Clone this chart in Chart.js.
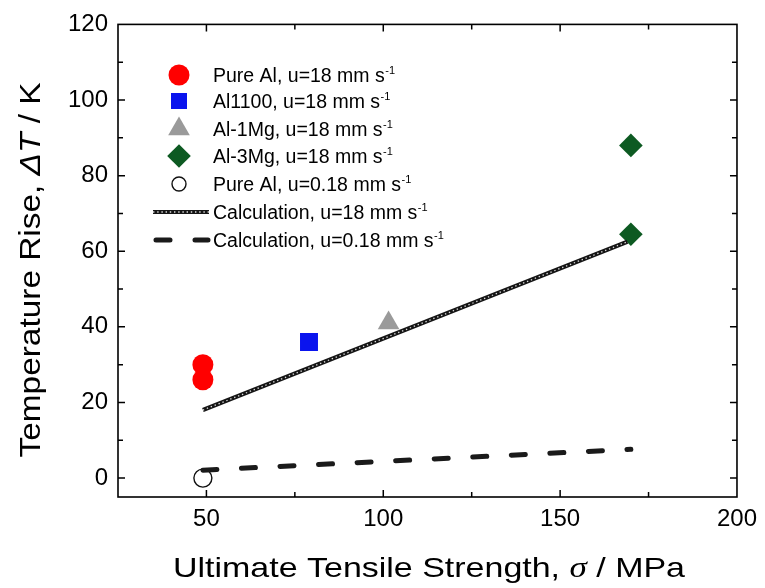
<!DOCTYPE html>
<html>
<head>
<meta charset="utf-8">
<script src="https://cdn.jsdelivr.net/npm/chart.js@4"></script>
<style>
  html, body { margin: 0; padding: 0; background: #ffffff; }
  #c { display: block; }
</style>
</head>
<body>
<canvas id="c" width="765" height="588"></canvas>
<script>
// Measured temperature rise vs. ultimate tensile strength
const pureAlFastX = [49, 49];
const pureAlFastY = [30, 26];
const al1100X = [79];
const al1100Y = [36];
const al1MgX = [101.5];
const al1MgY = [41];
const al3MgX = [170, 170];
const al3MgY = [88, 64.5];
const pureAlSlowX = [49];
const pureAlSlowY = [0];

// Calculated temperature rise
const calcFastX = [49, 169];
const calcFastY = [18, 62.5];
const calcSlowX = [49, 170];
const calcSlowY = [2.1, 7.6];

// Labelled ticks
const xTickLabels = [50, 100, 150, 200];
const yTickLabels = [0, 20, 40, 60, 80, 100, 120];

// Series names shown in the key (each followed by a superscript "-1")
const seriesLabels = [
  'Pure Al, u=18 mm s',
  'Al1100, u=18 mm s',
  'Al-1Mg, u=18 mm s',
  'Al-3Mg, u=18 mm s',
  'Pure Al, u=0.18 mm s',
  'Calculation, u=18 mm s',
  'Calculation, u=0.18 mm s'
];

const SANS = '"Liberation Sans", Arial, Helvetica, sans-serif';

function pts(xs, ys) {
  return xs.map((x, i) => ({ x: x, y: ys[i] }));
}

const datasets = [
  { label: seriesLabels[0], data: pts(pureAlFastX, pureAlFastY), pointStyle: 'circle', pointRadius: 10.5,
    backgroundColor: '#ff0000', borderColor: '#ff0000', borderWidth: 0, order: 10,
    legendRow: 0, legendRadius: 10.5 },
  { label: seriesLabels[1], data: pts(al1100X, al1100Y), pointStyle: 'rect', pointRadius: 12.7,
    backgroundColor: '#0a14ee', borderColor: '#0a14ee', borderWidth: 0, order: 10,
    legendRow: 1, legendRadius: 11.3 },
  { label: seriesLabels[2], data: pts(al1MgX, al1MgY), pointStyle: 'triangle', pointRadius: 12.5,
    backgroundColor: '#9a9a9a', borderColor: '#9a9a9a', borderWidth: 0, order: 10,
    legendRow: 2, legendRadius: 12.5 },
  { label: seriesLabels[3], data: pts(al3MgX, al3MgY), pointStyle: 'rectRot', pointRadius: 11.8,
    backgroundColor: '#0d5a22', borderColor: '#0d5a22', borderWidth: 0, order: 10,
    legendRow: 3, legendRadius: 11.8 },
  { label: seriesLabels[4], data: pts(pureAlSlowX, pureAlSlowY), pointStyle: 'circle', pointRadius: 9,
    backgroundColor: 'rgba(255,255,255,0)', borderColor: '#111111', borderWidth: 1.4, order: 9,
    legendRow: 4, legendRadius: 7 },
  { label: seriesLabels[5], data: pts(calcFastX, calcFastY), showLine: true, pointRadius: 0,
    borderColor: '#151515', borderWidth: 4.2, order: 5,
    legendRow: 5, legendLine: 'chain' },
  // light inner dots give the calculated line its beaded texture
  { label: '', data: pts(calcFastX, calcFastY), showLine: true, pointRadius: 0,
    borderColor: 'rgba(255,255,255,0.85)', borderWidth: 1.3, borderDash: [1.4, 2.8], order: 4 },
  { label: seriesLabels[6], data: pts(calcSlowX, calcSlowY), showLine: true, pointRadius: 0,
    borderColor: '#1a1a1a', borderWidth: 5, borderDash: [14, 24.6], borderCapStyle: 'round', order: 5,
    legendRow: 6, legendLine: 'dash' }
];

// Box around the plot with inward tick marks on all four sides
const frameTicks = {
  id: 'frameTicks',
  afterDatasetsDraw(chart) {
    const { ctx, chartArea: a, scales } = chart;
    ctx.save();
    ctx.strokeStyle = '#000';
    ctx.lineWidth = 1.6;
    ctx.strokeRect(a.left, a.top, a.right - a.left, a.bottom - a.top);
    ctx.lineWidth = 1.5;
    ctx.beginPath();
    scales.x.ticks.forEach(t => {
      if (t.value <= scales.x.min || t.value >= scales.x.max) return;
      const px = scales.x.getPixelForValue(t.value);
      const len = xTickLabels.includes(t.value) ? 7 : 5;
      ctx.moveTo(px, a.bottom); ctx.lineTo(px, a.bottom - len);
      ctx.moveTo(px, a.top); ctx.lineTo(px, a.top + len);
    });
    scales.y.ticks.forEach(t => {
      if (t.value <= scales.y.min || t.value >= scales.y.max) return;
      const py = scales.y.getPixelForValue(t.value);
      const len = yTickLabels.includes(t.value) ? 7 : 5;
      ctx.moveTo(a.left, py); ctx.lineTo(a.left + len, py);
      ctx.moveTo(a.right, py); ctx.lineTo(a.right - len, py);
    });
    ctx.stroke();
    ctx.restore();
  }
};

function markerPath(ctx, style, x, y, r) {
  ctx.beginPath();
  if (style === 'circle') {
    ctx.arc(x, y, r, 0, Math.PI * 2);
  } else if (style === 'rect') {
    const s = r * Math.SQRT1_2;
    ctx.rect(x - s, y - s, 2 * s, 2 * s);
  } else if (style === 'triangle') {
    for (let k = 0; k < 3; k++) {
      const ang = k * 2 * Math.PI / 3;
      const px = x + Math.sin(ang) * r, py = y - Math.cos(ang) * r;
      if (k === 0) ctx.moveTo(px, py); else ctx.lineTo(px, py);
    }
    ctx.closePath();
  } else if (style === 'rectRot') {
    ctx.moveTo(x - r, y); ctx.lineTo(x, y - r); ctx.lineTo(x + r, y); ctx.lineTo(x, y + r);
    ctx.closePath();
  }
}

// Key in the upper-left corner of the plot, with "-1" exponents
const keyPlugin = {
  id: 'keyPlugin',
  afterDraw(chart) {
    const { ctx } = chart;
    const rowY = [75, 101, 129, 156, 184, 212, 240];
    const markX = 179, textX = 213;
    ctx.save();
    chart.data.datasets.forEach(ds => {
      if (ds.legendRow === undefined) return;
      const y = rowY[ds.legendRow];
      if (ds.legendLine === 'chain') {
        ctx.lineWidth = 4.2; ctx.strokeStyle = '#151515'; ctx.setLineDash([]);
        ctx.beginPath(); ctx.moveTo(153, y); ctx.lineTo(209, y); ctx.stroke();
        ctx.lineWidth = 1.3; ctx.strokeStyle = 'rgba(255,255,255,0.85)'; ctx.setLineDash([1.4, 2.8]);
        ctx.beginPath(); ctx.moveTo(153, y); ctx.lineTo(209, y); ctx.stroke();
        ctx.setLineDash([]);
      } else if (ds.legendLine === 'dash') {
        ctx.lineWidth = 5; ctx.strokeStyle = '#1a1a1a'; ctx.lineCap = 'round';
        ctx.beginPath(); ctx.moveTo(156, y); ctx.lineTo(170, y); ctx.moveTo(195, y); ctx.lineTo(208, y); ctx.stroke();
        ctx.lineCap = 'butt';
      } else {
        markerPath(ctx, ds.pointStyle, markX, y, ds.legendRadius);
        if (ds.borderWidth > 0) {
          ctx.lineWidth = ds.borderWidth; ctx.strokeStyle = ds.borderColor; ctx.stroke();
        } else {
          ctx.fillStyle = ds.backgroundColor; ctx.fill();
        }
      }
      ctx.fillStyle = '#000';
      ctx.textBaseline = 'alphabetic';
      ctx.textAlign = 'left';
      ctx.font = '19.5px ' + SANS;
      ctx.fillText(ds.label, textX, y + 7);
      const w = ctx.measureText(ds.label).width;
      ctx.font = '11px ' + SANS;
      ctx.fillText('-1', textX + w + 0.5, y - 1);
    });
    ctx.restore();
  }
};

// Axis titles with italic symbols
function drawRuns(ctx, runs, targetWidth) {
  let total = 0;
  runs.forEach(r => { ctx.font = r.font; r.w = ctx.measureText(r.text).width; total += r.w; });
  const sx = targetWidth / total;
  ctx.scale(sx, 1);
  let cx = -total / 2;
  runs.forEach(r => { ctx.font = r.font; ctx.fillText(r.text, cx, 0); cx += r.w; });
}

const axisTitles = {
  id: 'axisTitles',
  afterDraw(chart) {
    const { ctx } = chart;
    ctx.save();
    ctx.fillStyle = '#000';
    ctx.textBaseline = 'alphabetic';
    ctx.textAlign = 'left';
    ctx.save();
    ctx.translate(429, 577);
    drawRuns(ctx, [
      { text: 'Ultimate Tensile Strength, ', font: '28px ' + SANS },
      { text: '\u03C3', font: 'italic 29px "Liberation Serif", "Times New Roman", serif' },
      { text: ' / MPa', font: '28px ' + SANS }
    ], 512);
    ctx.restore();
    ctx.save();
    ctx.translate(40, 270);
    ctx.rotate(-Math.PI / 2);
    drawRuns(ctx, [
      { text: 'Temperature Rise, ', font: '30px ' + SANS },
      { text: '\u0394T', font: 'italic 30px ' + SANS },
      { text: ' / K', font: '30px ' + SANS }
    ], 375);
    ctx.restore();
    ctx.restore();
  }
};

new Chart(document.getElementById('c'), {
  type: 'scatter',
  data: { datasets: datasets },
  options: {
    responsive: false,
    animation: false,
    events: [],
    layout: { padding: { top: 19, right: 26, left: 0, bottom: 0 } },
    plugins: { legend: { display: false }, tooltip: { enabled: false } },
    scales: {
      x: {
        type: 'linear', min: 25, max: 200,
        grid: { display: false, drawTicks: false },
        border: { display: false },
        ticks: {
          stepSize: 25, autoSkip: false, maxRotation: 0, padding: 8, color: '#000',
          font: { family: SANS, size: 24 },
          callback: v => xTickLabels.includes(v) ? String(v) : ''
        },
        afterFit: s => { s.height = 91; }
      },
      y: {
        type: 'linear', min: -5, max: 120,
        grid: { display: false, drawTicks: false },
        border: { display: false },
        ticks: {
          stepSize: 10, includeBounds: false, autoSkip: false, padding: 10, color: '#000',
          font: { family: SANS, size: 24 },
          callback: v => yTickLabels.includes(v) ? String(v) : ''
        },
        afterFit: s => { s.width = 118; }
      }
    }
  },
  plugins: [frameTicks, keyPlugin, axisTitles]
});
</script>
</body>
</html>
